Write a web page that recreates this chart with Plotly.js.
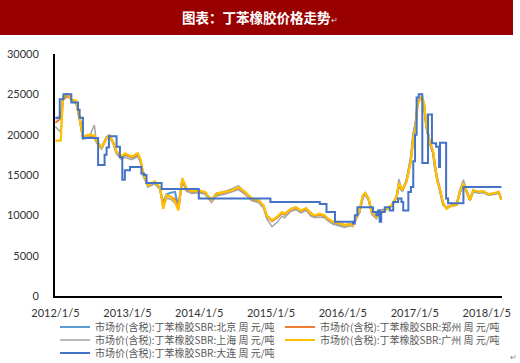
<!DOCTYPE html>
<html>
<head>
<meta charset="utf-8">
<script src="https://cdn.plot.ly/plotly-3.0.1.min.js"></script>
<style>
html,body{margin:0;padding:0;background:#fff;}
#chart{width:520px;height:363px;}
</style>
</head>
<body>
<div id="chart"></div>
<script>
// ---- data ----
const titleText = '图表：丁苯橡胶价格走势';
const seriesNames = [
  '市场价(含税):丁苯橡胶SBR:北京 周 元/吨',
  '市场价(含税):丁苯橡胶SBR:郑州 周 元/吨',
  '市场价(含税):丁苯橡胶SBR:上海 周 元/吨',
  '市场价(含税):丁苯橡胶SBR:广州 周 元/吨',
  '市场价(含税):丁苯橡胶SBR:大连 周 元/吨'
];
const xTickVals = ['2012-01-05','2013-01-05','2014-01-05','2015-01-05','2016-01-05','2017-01-05','2018-01-05'];
const xTickText = ['2012/1/5','2013/1/5','2014/1/5','2015/1/5','2016/1/5','2017/1/5','2018/1/5'];

const dates = [
'2012-01-05','2012-02-01','2012-02-13','2012-02-24','2012-03-10','2012-03-26','2012-04-20','2012-05-06','2012-05-24','2012-06-26',
'2012-07-21','2012-08-01','2012-08-27','2012-09-21','2012-10-06','2012-10-25','2012-11-11','2012-12-07','2012-12-23','2013-01-27',
'2013-02-27','2013-03-13','2013-03-26','2013-04-20','2013-05-24','2013-06-19','2013-07-06','2013-07-23','2013-08-13','2013-09-04',
'2013-09-21','2013-10-11','2013-11-03','2013-11-28','2014-01-01','2014-02-04','2014-03-08','2014-04-03','2014-05-13','2014-06-18',
'2014-07-23','2014-08-26','2014-09-29','2014-11-02','2014-11-28','2014-12-14','2015-01-10','2015-02-04','2015-03-01','2015-03-15',
'2015-04-16','2015-05-11','2015-06-06','2015-07-02','2015-07-27','2015-08-14','2015-09-09','2015-10-04','2015-10-21','2015-11-16',
'2015-12-19','2016-01-15','2016-02-09','2016-02-25','2016-03-13','2016-03-30','2016-04-16','2016-04-28','2016-05-15','2016-06-01',
'2016-06-23','2016-07-10','2016-08-05','2016-09-09','2016-10-04','2016-10-16','2016-11-02','2016-11-24','2016-12-16','2016-12-28',
'2017-01-09','2017-01-19','2017-02-09','2017-02-20','2017-03-04','2017-03-21','2017-04-08','2017-04-16','2017-04-29','2017-05-12',
'2017-05-29','2017-06-15','2017-07-10','2017-08-05','2017-08-22','2017-09-09','2017-09-25','2017-10-12','2017-10-29','2017-11-24',
'2017-12-19','2018-01-14','2018-02-17','2018-03-07','2018-03-21'
];
const beijing = [
22000,22200,24500,25000,25000,24300,24000,22300,19500,19700,
19600,19200,18300,19700,19900,19000,17800,17100,17500,17200,
17400,16700,15000,13600,14100,13400,11500,12600,12800,12900,
11000,14300,13100,12900,13000,12800,11800,12700,12900,13200,
13600,12800,12000,11800,11100,9900,9300,9700,10300,10100,
10800,11000,10500,10800,10100,9900,10100,9900,9500,9100,
8900,8700,8900,8800,9700,10500,12300,12700,12000,10300,
9700,10600,10700,11200,12200,13800,13000,14300,17000,20000,
21500,24200,24600,23800,21000,19000,17700,16000,14500,13200,
11300,11000,11200,11300,12800,13900,12800,11900,13000,12800,
12900,12600,12700,12800,12100
];
const zhengzhou = [
21500,22000,24400,24600,24800,24300,24000,22200,19700,19900,
19800,19100,18400,19600,19900,19000,17800,17200,17600,17200,
17600,16800,15100,13700,14100,13400,11200,12400,12300,12000,
10800,14500,13000,12900,13000,12800,11800,12600,12800,13100,
13400,12800,12000,11800,11100,9900,9300,9700,10300,10100,
10700,10900,10500,10800,10300,9900,10100,9900,9500,9200,
9000,8800,8900,8800,9700,10500,12400,12700,12000,10300,
9700,10400,10600,11200,12300,13900,13100,14300,16800,19700,
21000,23900,24700,23900,21200,19100,17800,16200,14300,13300,
11400,10900,11200,11300,12900,14000,12900,11900,13100,12900,
12900,12600,12700,12900,11900
];
const shanghai = [
21000,20300,24300,24800,24900,24200,23800,22000,19600,19800,
21200,19000,18200,19500,19800,18800,17600,16900,17200,16900,
17300,16500,15000,13500,13900,13200,11000,12100,12000,11500,
10800,14400,13000,12700,12800,12600,11600,12400,12600,12900,
13200,12600,11800,11600,10900,9600,8600,9100,9900,9700,
10500,10700,10300,10600,9900,9700,9800,9700,9300,8900,
8700,8500,8700,8600,9500,10300,12200,12500,11800,10100,
9600,10200,10500,11100,12400,14500,13000,14500,17500,20200,
21500,24000,24700,23900,21500,19400,18000,16300,14700,13500,
11600,10900,11300,11500,13200,14400,13100,12100,13200,12800,
12800,12500,12600,12800,12000
];
const guangzhou = [
19250,19250,24600,25000,25000,24400,24200,22100,19800,20000,
19900,19200,18400,19600,19900,19000,17900,17300,17700,17300,
17700,16900,15200,13750,14200,13500,10800,12500,12300,11700,
10600,14600,13300,13000,13100,12900,11900,12700,12900,13100,
13500,12900,12100,11900,11250,10000,9400,9800,10400,10200,
10800,11000,10600,10900,10200,10000,10200,10000,9600,9200,
9000,8750,8900,8750,9800,10600,12500,12800,12100,10400,
9800,10400,10600,11250,12300,14000,13100,14200,16700,19600,
20800,23750,24800,24000,21250,19200,17900,16250,14200,13300,
11500,10800,11250,11250,12900,14000,12900,11900,13100,12900,
13000,12600,12800,12900,11900
];
const dalianDates = [
'2012-01-05','2012-01-27','2012-02-15','2012-03-26','2012-04-29','2012-05-07','2012-05-24','2012-08-09','2012-09-11','2012-09-21',
'2012-10-03','2012-11-11','2012-11-28','2012-12-10','2012-12-23','2013-01-18','2013-03-17','2013-03-31','2013-04-12','2013-06-28',
'2014-01-03','2015-01-02','2015-09-10','2015-10-14','2015-11-26','2016-02-25','2016-03-06','2016-03-19','2016-06-06','2016-06-23',
'2016-07-02','2016-07-10','2016-07-18','2016-08-05','2016-08-31','2016-09-17','2016-10-12','2016-10-29','2016-11-07','2016-12-03',
'2016-12-16','2016-12-28','2017-01-06','2017-01-14','2017-01-25','2017-02-12','2017-03-13','2017-04-02','2017-04-23','2017-05-08',
'2017-05-13','2017-06-13','2017-06-23','2017-09-09','2018-03-21'
];
const dalian = [
22100,24400,25000,24000,23100,22100,19600,16250,17500,18400,
19800,18500,17200,14400,15600,16000,15200,15000,14000,13250,
12100,11650,11400,10400,9200,9000,10000,11000,10400,10000,
10600,9200,10400,11000,10600,11650,12100,11650,10600,12900,
13500,16700,20000,24600,25000,16500,22500,18950,18500,16000,
19000,12100,11500,13500,13500
];

// ---- chart ----
const colors = ['#5B9BD5','#ED7D31','#A5A5A5','#FFC000','#4472C4'];
const widths = [2.2,2.2,1.5,2.2,2];
const ys = [beijing, zhengzhou, shanghai, guangzhou];
const legendIds = ['legend','legend2','legend3','legend4','legend5'];
const traces = ys.map((y,i)=>({
  type:'scatter', mode:'lines', x:dates, y:y, name:seriesNames[i],
  line:{color:colors[i], width:widths[i]}, legend:legendIds[i], hoverinfo:'skip'
}));
traces.push({
  type:'scatter', mode:'lines', x:dalianDates, y:dalian, name:seriesNames[4],
  line:{color:colors[4], width:widths[4], shape:'hv'}, legend:legendIds[4], hoverinfo:'skip'
});

const L = 55, R = 18, T = 54, B = 67;
const PW = 520 - L - R, PH = 363 - T - B;
const px = v => (v - L) / PW;       // page pixel x -> paper
const py = v => (363 - B - v) / PH; // page pixel y -> paper

const legendCommon = {
  orientation:'h', xanchor:'left', yanchor:'middle',
  bgcolor:'rgba(0,0,0,0)', font:{family:'Noto Sans CJK SC', size:10, color:'#595959'},
  itemwidth:30, tracegroupgap:0
};
const legendPos = [[55,327],[280,327],[55,340],[280,340],[55,353]];

const layout = {
  width:520, height:363,
  margin:{l:L, r:R, t:T, b:B, pad:0, autoexpand:false},
  paper_bgcolor:'#ffffff', plot_bgcolor:'#ffffff',
  showlegend:true,
  xaxis:{
    type:'date', range:['2012-01-03','2018-03-24'],
    tickmode:'array', tickvals:xTickVals, ticktext:xTickText,
    showgrid:false, zeroline:false, showline:true, linecolor:'#000', linewidth:2,
    ticks:'', tickfont:{family:'Lato', size:11, color:'#333'}, ticklabelstandoff:6
  },
  yaxis:{
    range:[0,30000], dtick:5000, tick0:0, tickformat:'d',
    showgrid:false, zeroline:false, showline:true, linecolor:'#000', linewidth:2,
    ticks:'', tickfont:{family:'Lato', size:11, color:'#333'}, ticklabelstandoff:12
  },
  shapes:[{
    type:'rect', xref:'paper', yref:'paper', x0:px(0), x1:px(513), y0:py(0), y1:py(35),
    fillcolor:'#990000', line:{width:0}, layer:'below'
  }],
  annotations:[
    {xref:'paper', yref:'paper', x:px(260), y:py(17.5), xanchor:'center', yanchor:'middle', showarrow:false,
     text:'<b>'+titleText+'</b><span style="font-size:8px;color:#dddddd">↵</span>', font:{family:'Noto Sans CJK SC', size:13.5, color:'#ffffff'}},
    {xref:'paper', yref:'paper', x:px(513), y:py(356), xanchor:'center', yanchor:'middle', showarrow:false,
     text:'↵', font:{family:'Noto Sans CJK SC', size:8, color:'#888888'}}
  ]
};
legendIds.forEach((id,i)=>{
  layout[id] = Object.assign({}, legendCommon, {x:px(legendPos[i][0]), y:py(legendPos[i][1])});
});

Plotly.newPlot('chart', traces, layout, {staticPlot:true, displayModeBar:false});
</script>
</body>
</html>
